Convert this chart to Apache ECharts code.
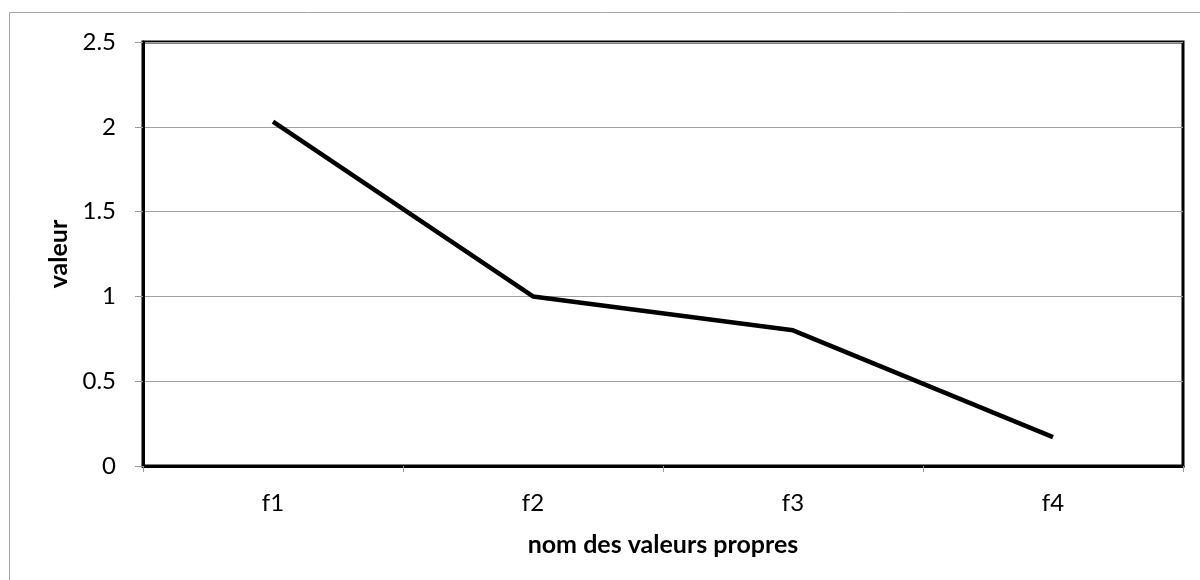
<!DOCTYPE html>
<html>
<head>
<meta charset="utf-8">
<script src="https://cdn.jsdelivr.net/npm/echarts@6/dist/echarts.min.js"></script>
<style>
  html, body { margin: 0; padding: 0; background: #fff; }
  #chart { width: 1200px; height: 580px; }
</style>
</head>
<body>
<div id="chart"></div>
<script>
// Eigenvalues of the principal components
const categories = ['f1', 'f2', 'f3', 'f4'];
const eigenvalues = [2.03, 1.0, 0.8, 0.17];
const yTicks = { min: 0, max: 2.5, interval: 0.5 };

const font = 'Lato, "Open Sans", sans-serif';
const chart = echarts.init(document.getElementById('chart'));

chart.setOption({
  backgroundColor: '#fff',
  animation: false,
  graphic: [{
    type: 'rect',
    shape: { x: 9.5, y: 12.5, width: 1220, height: 620 },
    style: { fill: 'none', stroke: '#a6a6a6', lineWidth: 1 },
    silent: true
  }],
  grid: {
    left: 143, right: 17, top: 42, bottom: 114,
    show: true,
    borderColor: '#000',
    borderWidth: 3,
    backgroundColor: 'transparent'
  },
  xAxis: {
    type: 'category',
    data: categories,
    boundaryGap: true,
    name: 'nom des valeurs propres',
    nameLocation: 'middle',
    nameGap: 66,
    nameTextStyle: { fontFamily: font, fontSize: 25, fontWeight: 'bold', color: '#000' },
    axisLine: { lineStyle: { color: '#000', width: 3 } },
    axisTick: { show: true, inside: false, length: 6, lineStyle: { color: '#999', width: 1 } },
    axisLabel: { fontFamily: font, fontSize: 24, color: '#000', margin: 25 },
    splitLine: { show: false }
  },
  yAxis: {
    type: 'value',
    min: yTicks.min,
    max: yTicks.max,
    interval: yTicks.interval,
    name: 'valeur',
    nameLocation: 'middle',
    nameGap: 70,
    nameTextStyle: { fontFamily: font, fontSize: 25, fontWeight: 'bold', color: '#000' },
    axisLine: { show: true, lineStyle: { color: '#000', width: 3 } },
    axisTick: { show: true, inside: false, length: 8, lineStyle: { color: '#999', width: 1 } },
    axisLabel: { fontFamily: font, fontSize: 24, color: '#000', margin: 27 },
    splitLine: { show: true, lineStyle: { color: '#a0a0a0', width: 1 } }
  },
  series: [{
    type: 'line',
    data: eigenvalues,
    symbol: 'none',
    lineStyle: { color: '#000', width: 4.5 },
    z: 5
  }]
});
</script>
</body>
</html>
